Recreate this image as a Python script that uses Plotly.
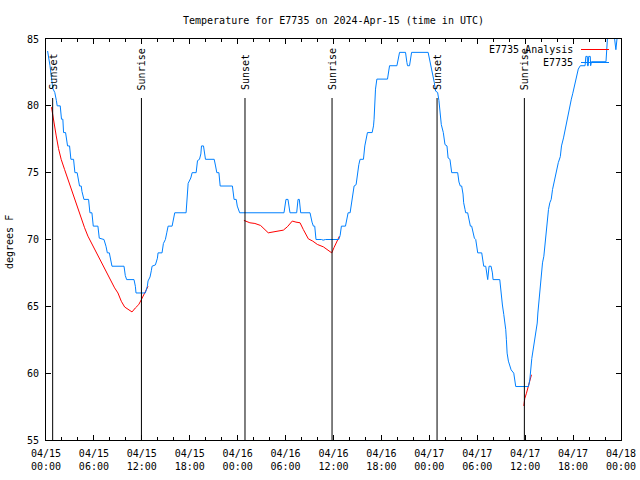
import datetime as dt
import plotly.graph_objects as go

# ---------------- data (hours after 2024-04-15 00:00 UTC) ----------------
START = dt.datetime(2024, 4, 15, 0, 0)

obs_hours = [
    0.2, 0.5, 0.85, 1.1, 1.3, 1.4, 1.78, 1.94, 2.11, 2.2, 2.45, 2.61, 2.7, 2.95,
    3.12, 3.45, 3.62, 3.9, 4.1, 4.2, 4.41, 4.5, 4.75, 5.33, 5.5, 5.75, 5.92, 6.5,
    6.67, 7.26, 7.51, 7.68, 7.93, 8.09, 8.26, 9.77, 9.93, 10.1, 11.02, 11.19,
    11.27, 12.44, 12.69, 12.78, 13.03, 13.2, 13.28, 13.7, 13.95, 14.03, 14.53,
    14.7, 14.95, 15.12, 15.29, 15.79, 15.96, 16.12, 17.54, 17.71, 17.8, 18.13,
    18.3, 18.8, 18.97, 19.22, 19.39, 19.47, 19.72, 19.97, 21.06, 21.23, 21.39,
    21.65, 21.73, 21.81, 23.34, 23.55, 23.82, 23.95, 24.25, 29.8, 30.05, 30.3,
    30.55, 31.39, 31.56, 31.72, 31.89, 33.06, 33.31, 33.48, 33.65, 33.81, 34.5,
    34.7, 35.0, 36.66, 36.83, 36.99, 37.5, 37.66, 37.83, 38.08, 38.25, 38.42,
    38.58, 38.83, 39.0, 39.17, 39.33, 39.75, 39.92, 40.09, 40.25, 40.84, 41.01,
    41.08, 41.26, 41.43, 42.76, 43.02, 43.94, 44.27, 45.02, 45.19, 45.27, 45.52,
    45.78, 47.85, 48.03, 48.2, 48.45, 48.62, 48.79, 49.04, 49.2, 49.37, 49.5,
    49.75, 49.96, 50.21, 50.35, 50.58, 50.75, 50.8, 51.55, 51.71, 51.88, 52.05,
    52.22, 52.3, 52.47, 52.55, 52.8, 52.97, 53.14, 53.3, 53.47, 53.64, 53.81,
    53.97, 54.06, 54.56, 54.73, 54.81, 55.06, 55.23, 55.31, 55.48, 55.73, 55.9,
    55.98, 56.82, 56.99, 57.15, 57.32, 57.49, 57.57, 57.65, 57.74, 57.9, 58.07,
    58.24, 58.57, 58.74, 58.82, 60.41, 60.58, 60.83, 61.0, 61.17, 61.34, 61.51,
    61.59, 61.76, 61.84, 62.01, 62.17, 62.34, 62.42, 62.59, 62.67, 62.76, 62.92,
    63.09, 63.26, 63.43, 63.59, 63.76, 63.95, 64.15, 64.4, 64.55, 64.8, 65.0,
    65.2, 65.4, 65.6, 65.78, 65.95, 66.1, 66.27, 66.45, 66.65, 66.9, 67.5, 67.6,
    67.78, 67.8, 67.9, 67.95, 68.15, 68.2, 68.3, 70.12, 70.2, 70.28, 70.4, 71.0,
    71.28, 71.36, 71.53, 71.65, 72.0,
]
obs_temps = [
    84.1, 83.0, 81.3, 81.0, 80.4, 80.0, 80.0, 79.0, 79.0, 78.0, 78.0, 77.5, 77.0, 77.0,
    76.0, 76.0, 75.0, 75.0, 74.3, 74.0, 74.0, 73.6, 73.0, 73.0, 72.0, 72.0, 71.0, 71.0,
    70.1, 70.0, 69.5, 69.0, 69.0, 68.5, 68.0, 68.0, 67.3, 67.0, 67.0, 66.5,
    66.0, 66.0, 66.5, 66.9, 67.2, 67.7, 68.0, 68.1, 68.6, 69.0, 69.0,
    69.7, 70.0, 70.5, 71.0, 71.0, 71.6, 72.0, 72.0, 73.5, 74.2, 74.6,
    75.0, 75.0, 75.9, 76.0, 76.4, 77.0, 77.0, 76.0, 76.0, 75.5, 75.0,
    75.0, 74.3, 74.0, 74.0, 73.0, 73.0, 72.5, 72.0, 72.0, 73.0, 73.0,
    72.0, 72.0, 73.0, 73.0, 72.0, 72.0, 71.3, 71.0, 71.0, 70.0, 70.0,
    69.95, 70.0, 70.0, 70.3, 71.0, 71.0, 71.5, 72.0, 72.0, 72.75, 73.5,
    74.0, 74.1, 75.0, 75.6, 76.0, 76.0, 77.0, 77.5, 78.0, 78.0, 78.5,
    79.0, 81.25, 82.0, 82.0, 83.0, 83.0, 84.0, 84.0, 83.25, 83.0, 83.0,
    84.0, 84.0, 83.5, 83.0, 82.4, 81.75, 81.1, 81.0, 80.4, 79.5, 78.6,
    78.0, 77.1, 77.0, 76.1, 76.0, 75.2, 75.0, 75.0, 74.3, 74.0, 74.0,
    73.4, 72.75, 72.25, 72.0, 72.0, 71.4, 71.0, 71.0, 70.4, 70.1, 70.0,
    69.25, 69.0, 69.0, 68.4, 68.0, 68.0, 67.25, 67.0, 68.0, 68.0, 67.5,
    67.0, 67.0, 65.9, 65.1, 64.4, 63.75, 63.25, 62.5, 61.5, 60.9, 60.55,
    60.25, 60.0, 59.5, 59.0, 59.0, 59.5, 61.1, 61.75, 62.4, 63.1, 63.75,
    64.5, 65.5, 66.5, 67.5, 68.25, 68.75, 69.25, 70.0, 70.5, 71.5, 72.25,
    72.75, 73.0, 73.75, 74.25, 74.75, 75.2, 75.75, 76.2, 77.0, 77.6, 78.25,
    78.75, 79.25, 80.0, 80.5, 80.9, 81.25, 81.75, 82.2, 82.75, 83.0, 83.0, 83.7,
    83.7, 83.0, 83.0, 83.7, 83.7, 83.0, 83.3, 83.3, 84.3, 85.2, 86.0, 86.0,
    84.3, 84.2, 85.2, 86.0, 86.0,
]

# analysis series, None marks a gap
ana_hours = [
    0.69, 0.85, 1.07, 1.28, 1.57, 1.9, 2.32, 2.74, 3.16, 3.58, 3.99, 4.41, 4.83,
    5.25, 5.67, 6.09, 6.5, 6.92, 7.34, 7.76, 8.18, 8.59, 9.01, 9.43, 9.85, 10.27,
    10.77, 11.19, 11.61, 11.94, 12.36, 12.78, None,
    24.78, 25.53, 26.16, 26.87, 27.83, 28.46, 29.09, 29.72, 30.22, 30.84, 31.3,
    31.81, 32.22, 32.85, 33.4, 33.98, 34.73, 35.24, 35.78, 36.07, 36.41, 36.74, None,
    59.83, 59.95, 60.16, 60.37, 60.54, 60.79,
]
ana_temps = [
    79.9, 79.25, 78.5, 77.75, 76.8, 76.0, 75.25, 74.5, 73.75, 73.0, 72.25, 71.5, 70.88,
    70.25, 69.75, 69.25, 68.88, 68.38, 67.88, 67.38, 66.88, 66.38, 66.0, 65.38, 64.95, 64.75,
    64.58, 64.88, 65.13, 65.5, 66.0, 66.5, None,
    71.43, 71.25, 71.2, 71.05, 70.5, 70.55, 70.63, 70.7, 70.95, 71.38, 71.3,
    71.25, 70.75, 70.05, 69.88, 69.63, 69.45, 69.25, 69.0, 69.4, 69.9, 70.25, None,
    57.55, 58.1, 58.5, 58.95, 59.45, 59.88,
]

sun_times = ["2024-04-15 00:50", "2024-04-15 11:57", "2024-04-16 00:55",
             "2024-04-16 11:49", "2024-04-17 00:58", "2024-04-17 11:54"]
sun_labels = ["Sunset", "Sunrise", "Sunset", "Sunrise", "Sunset", "Sunrise"]

tick_hours = list(range(0, 73, 6))
tick_labels = ["04/15<br>00:00", "04/15<br>06:00", "04/15<br>12:00", "04/15<br>18:00",
               "04/16<br>00:00", "04/16<br>06:00", "04/16<br>12:00", "04/16<br>18:00",
               "04/17<br>00:00", "04/17<br>06:00", "04/17<br>12:00", "04/17<br>18:00",
               "04/18<br>00:00"]
minor_hours = [h for h in range(0, 73, 2) if h % 6]
y_ticks = [55, 60, 65, 70, 75, 80, 85]

title_text = "Temperature for E7735 on 2024-Apr-15 (time in UTC)"
series_names = ["E7735 Analysis", "E7735"]

# ---------------- build ----------------
def to_t(h):
    return None if h is None else START + dt.timedelta(hours=h)

FONT = "DejaVu Sans Mono"
BLUE = "rgb(0,128,255)"
RED = "rgb(255,0,0)"

fig = go.Figure()
fig.add_trace(go.Scatter(x=[to_t(h) for h in ana_hours], y=ana_temps, mode="lines",
                         line=dict(color=RED, width=1), name=series_names[0],
                         connectgaps=False, showlegend=False))
fig.add_trace(go.Scatter(x=[to_t(h) for h in obs_hours], y=obs_temps, mode="lines",
                         line=dict(color=BLUE, width=1), name=series_names[1],
                         showlegend=False))

# plot area in pixels
L, R, T, B = 46, 621, 39, 440
W, H = R - L, B - T
def px(x):
    return (x - L) / W
def py(y):
    return (B - y) / H

shapes = []
annotations = []
for t, lab in zip(sun_times, sun_labels):
    shapes.append(dict(type="line", xref="x", yref="paper", x0=t, x1=t,
                       y0=0, y1=py(98), line=dict(color="black", width=1)))
    annotations.append(dict(x=t, xref="x", y=py(92), yref="paper", text=lab,
                            textangle=-90, showarrow=False, xanchor="center",
                            yanchor="bottom", font=dict(family=FONT, size=10, color="black")))

# legend drawn gnuplot-style (text right, sample on right)
leg_y = [49.5, 62.5]
leg_col = [RED, BLUE]
for name, yy, c in zip(series_names, leg_y, leg_col):
    annotations.append(dict(x=px(575), xref="paper", y=py(yy), yref="paper", text=name,
                            showarrow=False, xanchor="right", yanchor="middle",
                            font=dict(family=FONT, size=10, color="black")))
    shapes.append(dict(type="line", xref="paper", yref="paper", x0=px(581), x1=px(609),
                       y0=py(yy), y1=py(yy), line=dict(color=c, width=1)))

annotations.append(dict(x=px(9), xref="paper", y=py(242), yref="paper", text="degrees F",
                        textangle=-90, showarrow=False, xanchor="center", yanchor="middle",
                        font=dict(family=FONT, size=10, color="black")))

fig.update_layout(
    width=640, height=480,
    margin=dict(l=L, r=640 - R, t=T, b=480 - B, pad=0, autoexpand=False),
    paper_bgcolor="white", plot_bgcolor="white",
    title=dict(text=title_text, x=0.5, xref="paper", xanchor="center",
               y=1 - 20 / 480, yref="container", yanchor="middle", automargin=False,
               font=dict(family=FONT, size=10, color="black")),
    font=dict(family=FONT, size=10, color="black"),
    shapes=shapes, annotations=annotations,
    xaxis=dict(range=[START, START + dt.timedelta(hours=72)], type="date",
               tickmode="array", tickvals=[to_t(h) for h in tick_hours], ticktext=tick_labels,
               ticks="inside", ticklen=5, tickwidth=1, tickcolor="black",
               minor=dict(tickmode="array", tickvals=[to_t(h) for h in minor_hours],
                          ticks="inside", ticklen=3, tickwidth=1, tickcolor="black"),
               showline=True, linecolor="black", linewidth=1, mirror="ticks",
               showgrid=False, zeroline=False, ticklabelstandoff=4, automargin=False,
               tickfont=dict(family=FONT, size=10, color="black")),
    yaxis=dict(range=[55, 85], tickmode="array", tickvals=y_ticks,
               ticks="inside", ticklen=5, tickwidth=1, tickcolor="black",
               showline=True, linecolor="black", linewidth=1, mirror="ticks",
               showgrid=False, zeroline=False, ticklabelstandoff=4, automargin=False,
               tickfont=dict(family=FONT, size=10, color="black")),
)

fig.write_html("out.html", config={"displayModeBar": False},
               post_script="document.body.style.margin='0';document.body.style.overflow='hidden';")
